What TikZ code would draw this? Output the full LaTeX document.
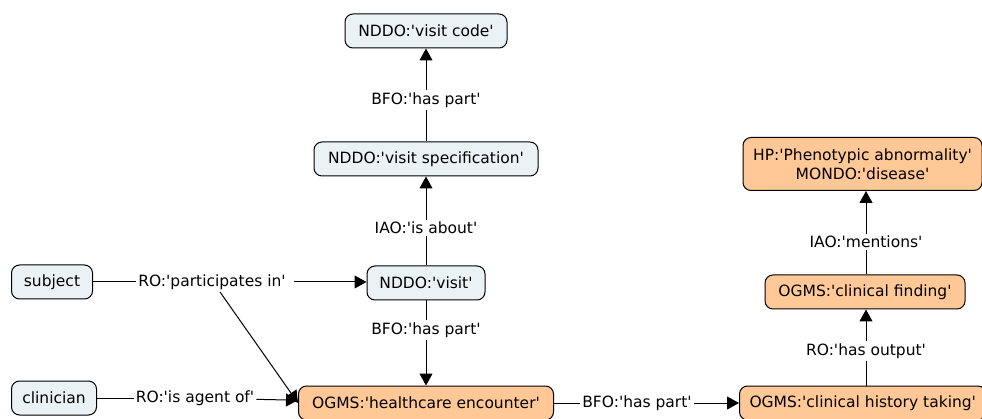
\documentclass[tikz,border=0pt]{standalone}
\usepackage{fontspec}
\setmainfont{DejaVu Sans}[Ligatures=TeXOff]
\usetikzlibrary{arrows.meta}
\definecolor{bluefill}{RGB}{234,242,245}
\definecolor{orangefill}{RGB}{255,200,150}
\begin{document}
\begin{tikzpicture}[x=1pt,y=-1pt,
  box/.style={draw=black, line width=1pt, rounded corners=8pt, minimum height=34pt, inner xsep=8pt, inner ysep=3pt, font=\fontsize{15.5}{19}\selectfont, align=center},
  bluebox/.style={box, fill=bluefill},
  orangebox/.style={box, fill=orangefill},
  lab/.style={inner sep=2pt, font=\fontsize{15.5}{19}\selectfont},
  conn/.style={line width=1pt},
  arr/.style={conn, -{Triangle[length=12pt,width=13pt]}}
]
\useasboundingbox (0,0) rectangle (982,419);
\node[bluebox, minimum width=162pt] (code) at (426,31) {NDDO:'visit code'};
\node[bluebox, minimum width=224pt] (spec) at (426,159) {NDDO:'visit specification'};
\node[bluebox, minimum width=118pt] (visit) at (426,283) {NDDO:'visit'};
\node[orangebox, minimum width=255pt] (enc) at (426,403) {OGMS:'healthcare encounter'};
\node[bluebox, minimum width=81pt] (subj) at (52,282) {subject};
\node[bluebox, minimum width=85pt] (clin) at (54,398) {clinician};
\node[orangebox, minimum width=239pt, minimum height=53pt, inner ysep=2pt] (hp) at (862.5,164) {HP:'Phenotypic abnormality'\\MONDO:'disease'};
\node[orangebox, minimum width=200pt] (find) at (865,292) {OGMS:'clinical finding'};
\node[orangebox, anchor=west, inner xsep=10pt] (hist) at (739,403) {OGMS:'clinical history taking'};

\node[lab] (l1) at (426,100) {BFO:'has part'};
\node[lab] (l2) at (426,228) {IAO:'is about'};
\node[lab] (l3) at (426,330) {BFO:'has part'};
\node[lab] (l4) at (212,282) {RO:'participates in'};
\node[lab] (l5) at (195,398) {RO:'is agent of'};
\node[lab] (l6) at (637,403) {BFO:'has part'};
\node[lab] (l7) at (866,351) {RO:'has output'};
\node[lab] (l8) at (866,242) {IAO:'mentions'};

\coordinate (l4d) at (220,292);

\draw[conn] (spec) -- (l1);
\draw[arr] (l1) -- (code);
\draw[conn] (visit) -- (l2);
\draw[arr] (l2) -- (spec);
\draw[conn] (visit) -- (l3);
\draw[arr] (l3) -- (enc);
\draw[conn] (subj) -- (l4);
\draw[arr] ([xshift=6pt]l4.east) -- (visit.west |- l4.east);
\draw[arr] (l4d) -- (enc.west);
\draw[conn] (clin) -- (l5);
\draw[arr] (l5) -- (enc);
\draw[conn] (enc) -- (l6);
\draw[arr] (l6) -- (hist);
\draw[conn] (l7) -- (l7 |- hist.north);
\draw[arr] (l7) -- (l7 |- find.south);
\draw[conn] (l8) -- (l8 |- find.north);
\draw[arr] (l8) -- (l8 |- hp.south);
\end{tikzpicture}
\end{document}
